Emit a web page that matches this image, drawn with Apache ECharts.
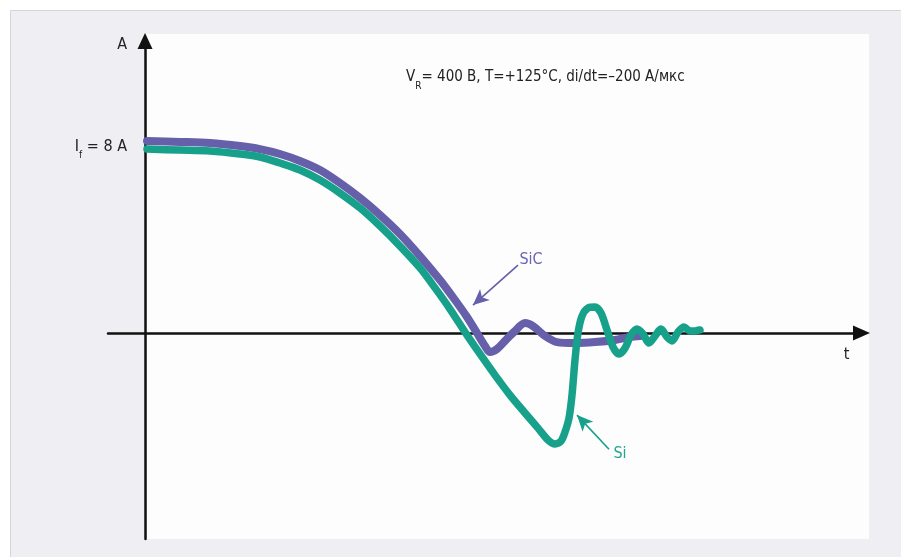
<!DOCTYPE html>
<html>
<head>
<meta charset="utf-8">
<script src="https://cdn.jsdelivr.net/npm/echarts@6/dist/echarts.min.js"></script>
<style>
  html, body { margin: 0; padding: 0; background: #ffffff; }
  #chart { width: 901px; height: 557px; }
</style>
</head>
<body>
<div id="chart"></div>
<script>
// Diode reverse-recovery current waveforms: time (arb. units), current (A)
const sicTime = [0.2, 3.5, 6.5, 9.5, 11.5, 13.5, 15.5, 17.5, 19.5, 21.5, 23.5, 25.5, 27.5, 29.5, 31.0, 32.2, 33.2, 34.0, 34.5, 35.2, 36.0, 37.0, 38.0, 38.8, 40.0, 41.2, 43.0, 45.0, 47.0, 48.5, 49.5];
const sicCurrent = [8.26, 8.22, 8.17, 8.04, 7.91, 7.70, 7.40, 7.01, 6.45, 5.81, 5.08, 4.26, 3.31, 2.28, 1.42, 0.69, 0.00, -0.56, -0.82, -0.69, -0.34, 0.09, 0.43, 0.30, -0.13, -0.39, -0.43, -0.39, -0.30, -0.17, -0.13];

const siTime = [0.2, 3.5, 6.5, 9.5, 11.5, 13.5, 15.5, 17.5, 19.5, 21.5, 23.5, 25.5, 27.5, 29.0, 30.5, 32.0, 33.5, 35.0, 36.5, 38.0, 39.3, 40.3, 41.0, 41.6, 42.0, 42.4, 42.7, 43.0, 43.3, 43.7, 44.3, 45.0, 45.6, 46.2, 46.8, 47.4, 48.0, 48.6, 49.2, 49.8, 50.4, 51.0, 51.6, 52.2, 52.7, 53.3, 53.9, 54.5, 55.0, 55.5];
const siCurrent = [7.91, 7.87, 7.83, 7.70, 7.57, 7.31, 7.01, 6.58, 6.02, 5.38, 4.60, 3.74, 2.80, 1.94, 1.03, 0.04, -0.90, -1.81, -2.67, -3.44, -4.09, -4.60, -4.77, -4.65, -4.26, -3.66, -2.67, -1.16, 0.00, 0.73, 1.08, 1.12, 0.86, 0.13, -0.60, -0.90, -0.65, -0.09, 0.17, -0.04, -0.43, -0.13, 0.17, -0.17, -0.34, 0.04, 0.26, 0.09, 0.09, 0.13];

// Marked level on the current axis
const yTickValues = [8];
const yTickText = ['{n|I}{s|f}{n| = 8 A}'];

const SIC_COLOR = '#6660ab';
const SI_COLOR = '#17a08a';
const TEXT_COLOR = '#222222';
const FONT = "'Liberation Sans Narrow', 'DejaVu Sans Condensed', Roboto, sans-serif";

function subRich(size) {
  return {
    n: { fontSize: size, fontWeight: 'normal', color: TEXT_COLOR, fontFamily: FONT, lineHeight: 22 },
    s: { fontSize: 10, fontWeight: 'normal', color: TEXT_COLOR, fontFamily: FONT, padding: [17, 0, 0, 0] }
  };
}

const chart = echarts.init(document.getElementById('chart'), null, { renderer: 'canvas' });

chart.setOption({
  animation: false,
  backgroundColor: '#ffffff',
  textStyle: { fontFamily: FONT },
  graphic: [
    { type: 'rect', z: -20, silent: true,
      shape: { x: 10.5, y: 10.5, width: 900, height: 556 },
      style: { fill: '#eeeef3', stroke: '#d4d4da', lineWidth: 1 } },
    { type: 'rect', z: -19, silent: true,
      shape: { x: 147, y: 34, width: 722, height: 505 },
      style: { fill: '#fdfdfe' } }
  ],
  title: {
    left: 406,
    top: 64,
    padding: 0,
    text: '{n|V}{s|R}{n|= 400 В, T=+125°C, di/dt=–200 А/мкс}',
    textStyle: { fontWeight: 'normal', rich: subRich(15) }
  },
  grid: { left: 108, right: 39.5, top: 41, bottom: 18, containLabel: false },
  xAxis: {
    type: 'value',
    min: -3.7,
    max: 71.65,
    name: 't',
    nameLocation: 'end',
    nameGap: -15,
    nameTextStyle: { fontSize: 16, color: TEXT_COLOR, fontFamily: FONT, align: 'center', verticalAlign: 'top', padding: [14, 0, 0, 0] },
    axisLine: { show: true, onZero: true, symbol: ['none', 'triangle'], symbolSize: [15, 17],
      lineStyle: { color: '#111111', width: 2.5 } },
    axisTick: { show: false },
    axisLabel: { show: false },
    splitLine: { show: false }
  },
  yAxis: {
    type: 'value',
    min: -8.86,
    max: 12.56,
    name: 'A',
    nameLocation: 'end',
    nameGap: -4,
    nameTextStyle: { fontSize: 16, color: TEXT_COLOR, fontFamily: FONT, align: 'right', verticalAlign: 'middle', padding: [0, 18, 0, 0] },
    axisLine: { show: true, onZero: true, symbol: ['none', 'triangle'], symbolSize: [15, 16],
      lineStyle: { color: '#111111', width: 2.5 } },
    axisTick: { show: false },
    axisLabel: {
      show: true,
      customValues: yTickValues,
      margin: -19,
      formatter: function (v) {
        const i = yTickValues.indexOf(v);
        return i >= 0 ? yTickText[i] : '';
      },
      rich: subRich(16)
    },
    splitLine: { show: false }
  },
  series: [
    {
      name: 'SiC',
      type: 'line',
      z: 3,
      smooth: 0.3,
      showSymbol: false,
      data: sicTime.map((t, i) => [t, sicCurrent[i]]),
      lineStyle: { color: SIC_COLOR, width: 8, cap: 'round', join: 'round' },
      markLine: {
        silent: true,
        animation: false,
        label: { show: false },
        lineStyle: { color: SIC_COLOR, width: 1.6, type: 'solid' },
        data: [[
          { coord: [37.3, 2.92], symbol: 'none' },
          { coord: [32.8, 1.20], symbol: 'arrow', symbolSize: [11, 16] }
        ]]
      },
      markPoint: {
        silent: true,
        symbol: 'circle',
        symbolSize: 1,
        itemStyle: { color: 'rgba(0,0,0,0)' },
        label: { show: true, position: 'inside', formatter: 'SiC', fontSize: 16, color: '#6a65b3', fontFamily: FONT },
        data: [{ coord: [38.6, 3.13] }]
      }
    },
    {
      name: 'Si',
      type: 'line',
      z: 4,
      smooth: 0.3,
      showSymbol: false,
      data: siTime.map((t, i) => [t, siCurrent[i]]),
      lineStyle: { color: SI_COLOR, width: 7.5, cap: 'round', join: 'round' },
      markLine: {
        silent: true,
        animation: false,
        label: { show: false },
        lineStyle: { color: SI_COLOR, width: 1.6, type: 'solid' },
        data: [[
          { coord: [46.4, -5.0], symbol: 'none' },
          { coord: [43.2, -3.53], symbol: 'arrow', symbolSize: [11, 16] }
        ]]
      },
      markPoint: {
        silent: true,
        symbol: 'circle',
        symbolSize: 1,
        itemStyle: { color: 'rgba(0,0,0,0)' },
        label: { show: true, position: 'inside', formatter: 'Si', fontSize: 16, color: '#1fa68e', fontFamily: FONT },
        data: [{ coord: [47.5, -5.2] }]
      }
    }
  ]
});
</script>
</body>
</html>
